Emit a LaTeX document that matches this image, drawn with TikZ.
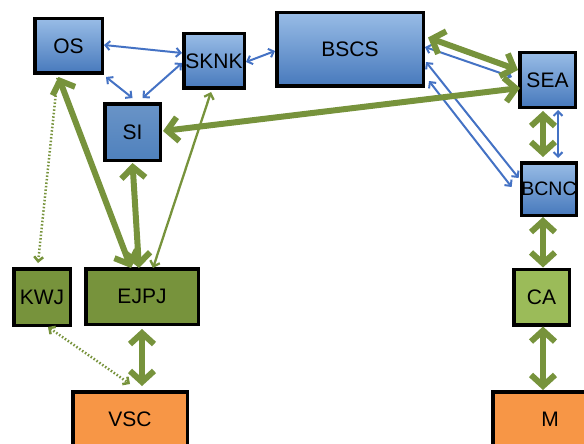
\documentclass[tikz,border=0pt]{standalone}
\usepackage{fontspec}
\setmainfont{Liberation Sans}
\usetikzlibrary{arrows.meta}
\definecolor{boxblueT}{HTML}{98BCE6}
\definecolor{boxblueB}{HTML}{4779BC}
\definecolor{siblue}{HTML}{4F81BD}
\definecolor{darkgreen}{HTML}{77933C}
\definecolor{lightgreen}{HTML}{9BBB59}
\definecolor{orangebox}{HTML}{F79646}
\definecolor{linkblue}{HTML}{4472C4}
\tikzset{
  box/.style={draw=black, line width=3.5pt, inner sep=0pt, font=\fontsize{21}{25}\selectfont},
  bluebox/.style={box, top color=boxblueT, bottom color=boxblueB},
  sibox/.style={box, top color=siblue!85!white, bottom color=siblue},
  greenbox/.style={box, fill=darkgreen},
  cabox/.style={box, fill=lightgreen},
  orbox/.style={box, fill=orangebox},
  thinblue/.style={draw=linkblue, line width=2pt,
    {Straight Barb[length=4.5pt,width=9pt]}-{Straight Barb[length=4.5pt,width=9pt]}},
  thingreen/.style={draw=darkgreen, line width=2.3pt,
    {Straight Barb[length=5pt,width=10pt]}-{Straight Barb[length=5pt,width=10pt]}},
  thickgreen/.style={draw=darkgreen, line width=6pt,
    {Straight Barb[length=11pt,width=24pt]}-{Straight Barb[length=11pt,width=24pt]}},
  dotgreen/.style={draw=darkgreen, line width=2.5pt, dash pattern=on 1.5pt off 2pt},
  dothead/.tip={Straight Barb[length=4.5pt,width=9pt]},
}
\begin{document}
\begin{tikzpicture}[x=1pt,y=-1pt]
\useasboundingbox (0,0) rectangle (584,444);
\clip (0,0) rectangle (584,444);

% boxes
\node[bluebox, minimum width=67.5pt, minimum height=54.5pt] (OS) at (68.5,46) {OS};
\node[bluebox, minimum width=60.5pt, minimum height=54.5pt] (SKNK) at (214,61) {SKNK};
\node[sibox, minimum width=55.5pt, minimum height=56.5pt] (SI) at (132.5,132) {SI};
\node[bluebox, minimum width=146.5pt, minimum height=73.5pt] (BSCS) at (350,49.5) {BSCS};
\node[bluebox, minimum width=55.5pt, minimum height=54.5pt] (SEA) at (547.5,80) {SEA};
\node[bluebox, minimum width=54.5pt, minimum height=52.5pt, font=\fontsize{19.5}{23}\selectfont] (BCNC) at (549,189) {BCNC};
\node[greenbox, minimum width=56.5pt, minimum height=56.5pt] (KWJ) at (42,297) {KWJ};
\node[greenbox, minimum width=112.5pt, minimum height=55.5pt] (EJPJ) at (142,296.5) {EJPJ};
\node[orbox, minimum width=114.5pt, minimum height=54.5pt] (VSC) at (130,419) {VSC};
\node[cabox, minimum width=55.5pt, minimum height=55.5pt] (CA) at (541.5,297) {CA};
\node[orbox, minimum width=114.5pt, minimum height=54.5pt] (M) at (550,419) {M};

% blue links
\draw[thinblue] ([yshift=1pt]OS.east) -- ([yshift=8pt]SKNK.west);
\draw[thinblue] ([xshift=2pt,yshift=-2pt]OS.south east) -- ([yshift=4pt]SI.north);
\draw[thinblue] ([yshift=-2pt]SKNK.west) -- ([xshift=10pt,yshift=4pt]SI.north);
\draw[thinblue] ([yshift=-1pt]SKNK.east) -- ([yshift=-1.5pt]BSCS.west);
\draw[thinblue] ([yshift=2.5pt]BSCS.east) -- ([xshift=-6pt,yshift=3pt]SEA.west);
\draw[thinblue] ([xshift=1pt,yshift=-12.5pt]BSCS.east) -- ([xshift=-1pt,yshift=11pt]BCNC.west);
\draw[thinblue] ([xshift=4pt,yshift=-31.5pt]BSCS.east) -- ([xshift=-8pt,yshift=2pt]BCNC.west);
\draw[thinblue] ([xshift=10.5pt,yshift=-1pt]SEA.south) -- ([xshift=9pt,yshift=3pt]BCNC.north);

% green links
\draw[thickgreen] ([xshift=3pt,yshift=12pt]BSCS.east) -- ([yshift=10pt]SEA.west);
\draw[thickgreen] ([xshift=1pt,yshift=1pt]SI.east) -- ([xshift=2pt,yshift=-8pt]SEA.west);
\draw[thickgreen] ([xshift=-4.5pt,yshift=-2pt]SEA.south) -- ([xshift=-6pt,yshift=4pt]BCNC.north);
\draw[thickgreen] ([xshift=-6pt]BCNC.south) -- ([xshift=1.5pt]CA.north);
\draw[thickgreen] ([xshift=1.5pt]CA.south) -- ([xshift=-7pt]M.north);
\draw[thickgreen] ([yshift=-3pt]EJPJ.south) -- ([xshift=12pt,yshift=4pt]VSC.north);
\draw[thickgreen] ([xshift=-10pt,yshift=-2pt]OS.south) -- ([xshift=-11pt,yshift=-1pt]EJPJ.north);
\draw[thickgreen] ([yshift=-1pt]SI.south) -- ([xshift=-3pt,yshift=-1pt]EJPJ.north);
\draw[thingreen] ([xshift=-3pt,yshift=-2pt]SKNK.south) -- ([xshift=11pt,yshift=-1pt]EJPJ.north);
\draw[dotgreen, -dothead] ([xshift=-11pt,yshift=-3pt]OS.south) -- ([xshift=-4pt,yshift=4pt]KWJ.north);
\draw[dotgreen, dothead-dothead] ([xshift=6pt,yshift=0pt]KWJ.south) -- ([yshift=6pt]VSC.north);
\end{tikzpicture}
\end{document}
